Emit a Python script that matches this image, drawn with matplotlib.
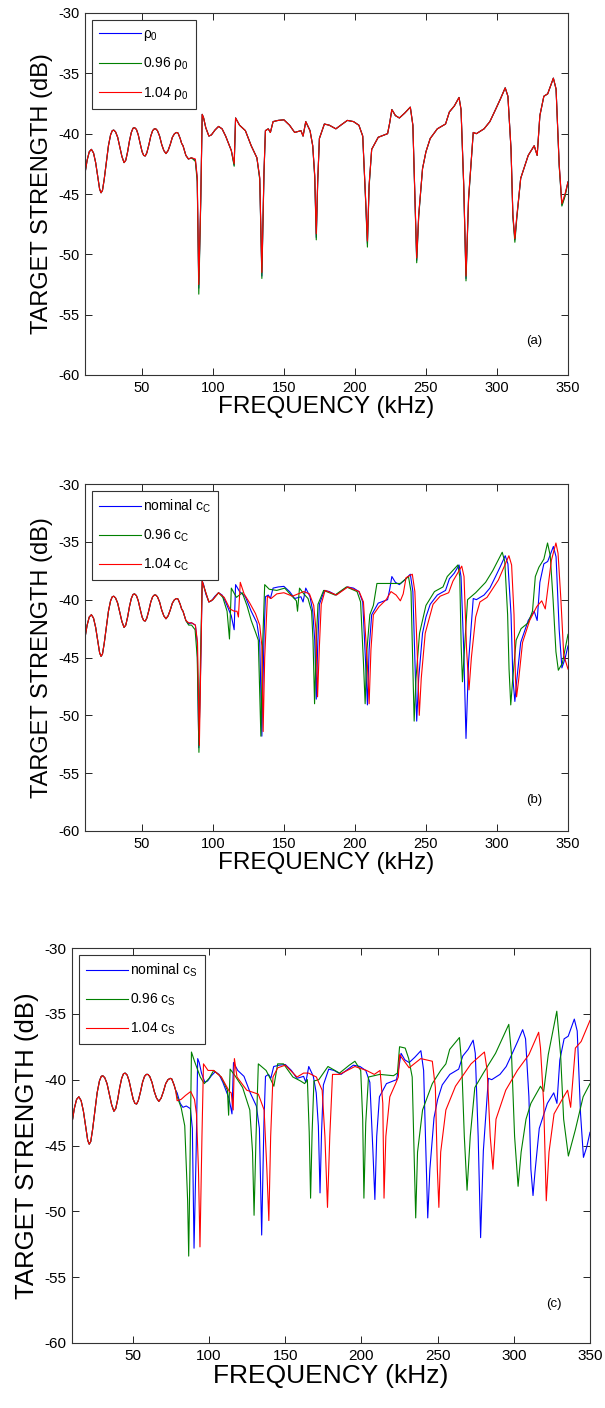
import matplotlib
matplotlib.use("Agg")
import matplotlib.pyplot as plt

plt.rcParams['font.family'] = ['Liberation Sans', 'DejaVu Sans']
plt.rcParams['mathtext.fontset'] = 'custom'
plt.rcParams['mathtext.rm'] = 'Liberation Sans'
plt.rcParams['mathtext.it'] = 'Liberation Sans'
plt.rcParams['mathtext.bf'] = 'Liberation Sans:bold'
plt.rcParams['axes.unicode_minus'] = False

# ---------------- data ----------------
# common low-frequency part (all curves coincide)
low_f = [10.4, 11.5, 13, 14.5, 16, 17.5, 19, 20.3, 21.3, 22.3, 23.5, 25, 26.5, 28, 29.2, 30.2,
         31.5, 33, 34.5, 36, 37.5, 38.7, 40, 41.3, 42.6, 43.8, 44.9, 46.2, 47.5, 48.8, 50.2,
         51.3, 52.4, 53.5, 55, 56.3, 57.6, 58.8, 59.8, 61, 62.5, 64, 65.5, 67, 68.5, 70, 71.5,
         73, 74.5, 75.5, 77, 78]
low_ts = [-43.0, -42.2, -41.5, -41.3, -41.6, -42.4, -43.6, -44.6, -44.9, -44.7, -43.8, -42.4,
          -41.0, -40.1, -39.75, -39.7, -39.85, -40.3, -41.1, -41.9, -42.4, -42.2, -41.5, -40.6,
          -39.9, -39.55, -39.5, -39.65, -40.1, -40.8, -41.5, -41.8, -41.85, -41.6, -40.9, -40.2,
          -39.75, -39.6, -39.6, -39.75, -40.2, -40.9, -41.4, -41.65, -41.4, -40.9, -40.3, -40.0,
          -39.9, -39.95, -40.4, -40.8]

# nominal curve (f >= 79 kHz)
nom_f = [79, 81, 82.8, 85, 87.7, 89, 90.1, 91.5, 92.5, 93.5,
         95, 97.2, 99, 101.5, 104, 106.5, 109, 113, 115, 116,
         118.8, 122.9, 127, 131, 133, 134.5, 136, 137, 139, 140.5,
         142.4, 146, 150, 154, 157.6, 162, 163.5, 165.4, 168.4, 170.3,
         171.7, 172.8, 173.8, 175, 178.5, 182, 186.6, 190, 194.7, 199,
         202.8, 205.5, 207.5, 208.8, 210, 211.8, 216.4, 223, 224.5, 226,
         228.5, 231.3, 235, 239, 240.8, 242, 243.5, 244.9, 247.6, 250,
         253, 258, 263.8, 266.5, 270, 273.3, 274.7, 276.6, 278.2, 280,
         283.3, 285.5, 290.9, 295, 299, 302.5, 305.8, 307.7, 309.9, 311.2,
         312.6, 313.9, 316.7, 322, 326.2, 328.3, 330.2, 333, 335.7, 339.7,
         341.6, 343.8, 345.7, 347.9, 350]
nom_ts = [-41.0, -41.8, -42.1, -42.0, -42.2, -43.7, -52.8, -45.4, -38.4, -38.7,
          -39.5, -40.2, -40.1, -39.7, -39.4, -39.6, -40.2, -41.4, -42.6, -38.7,
          -39.3, -39.75, -41.0, -42.0, -43.7, -51.8, -43.2, -39.75, -39.6, -39.9,
          -39.0, -38.9, -38.85, -39.3, -39.9, -39.75, -40.2, -39.0, -39.75, -41.0,
          -43.5, -48.6, -44.0, -40.4, -39.2, -39.3, -39.6, -39.3, -38.9, -39.0,
          -39.3, -40.2, -45.4, -49.1, -44.3, -41.3, -40.3, -40.0, -39.1, -38.0,
          -38.5, -38.7, -38.3, -37.8, -39.3, -44.3, -50.5, -46.8, -42.9, -41.5,
          -40.4, -39.6, -39.2, -38.2, -37.7, -37.0, -38.0, -44.3, -52.0, -45.4,
          -39.9, -40.0, -39.6, -39.0, -38.0, -37.1, -36.2, -36.9, -41.3, -46.8,
          -48.8, -47.0, -43.7, -41.8, -41.0, -41.8, -38.5, -36.9, -36.7, -35.4,
          -36.3, -42.6, -45.9, -45.1, -44.0]

# panel (a): density variations (same frequency grid as nominal)
rho096_ts = [-41.0, -41.8, -42.1, -42.0, -42.3, -44.0, -53.3, -45.6, -38.4, -38.7,
             -39.5, -40.2, -40.1, -39.7, -39.4, -39.6, -40.2, -41.4, -42.7, -38.7,
             -39.3, -39.75, -41.0, -42.0, -43.8, -52.0, -43.3, -39.75, -39.6, -39.9,
             -39.0, -38.9, -38.85, -39.3, -39.9, -39.75, -40.2, -39.0, -39.75, -41.0,
             -43.6, -48.8, -44.1, -40.4, -39.2, -39.3, -39.6, -39.3, -38.9, -39.0,
             -39.3, -40.2, -45.5, -49.4, -44.4, -41.3, -40.3, -40.0, -39.1, -38.0,
             -38.5, -38.7, -38.3, -37.8, -39.3, -44.4, -50.7, -46.9, -42.9, -41.5,
             -40.4, -39.6, -39.2, -38.2, -37.7, -37.0, -38.0, -44.4, -52.2, -45.5,
             -39.9, -40.0, -39.6, -39.0, -38.0, -37.1, -36.2, -36.9, -41.3, -46.9,
             -49.0, -47.1, -43.7, -41.8, -41.0, -41.8, -38.5, -36.9, -36.7, -35.4,
             -36.3, -42.7, -46.0, -45.2, -44.0]
rho104_ts = [-41.0, -41.8, -42.1, -42.0, -42.1, -43.6, -52.5, -45.3, -38.4, -38.7,
             -39.5, -40.2, -40.1, -39.7, -39.4, -39.6, -40.2, -41.4, -42.5, -38.7,
             -39.3, -39.75, -41.0, -42.0, -43.6, -51.5, -43.1, -39.75, -39.6, -39.9,
             -39.0, -38.9, -38.85, -39.3, -39.9, -39.75, -40.2, -39.0, -39.75, -41.0,
             -43.4, -48.3, -43.9, -40.4, -39.2, -39.3, -39.6, -39.3, -38.9, -39.0,
             -39.3, -40.2, -45.3, -48.9, -44.2, -41.3, -40.3, -40.0, -39.1, -38.0,
             -38.5, -38.7, -38.3, -37.8, -39.3, -44.2, -50.3, -46.7, -42.9, -41.5,
             -40.4, -39.6, -39.2, -38.2, -37.7, -37.0, -38.0, -44.2, -51.8, -45.3,
             -39.9, -40.0, -39.6, -39.0, -38.0, -37.1, -36.2, -36.9, -41.3, -46.7,
             -48.7, -46.9, -43.7, -41.8, -41.0, -41.8, -38.5, -36.9, -36.7, -35.4,
             -36.3, -42.5, -45.8, -45.0, -44.0]

# panel (b): compressional sound speed variations
cc096_f = [79, 81, 83, 85, 87.5, 89, 90.2, 91.3, 92.5, 94, 97.2, 100, 104, 107, 110, 111.7, 113,
           116.6, 120.7, 124, 127, 130, 132, 133.8, 135, 136.5, 139.7, 145, 150.6, 155, 158.8,
           159.6, 161, 164, 167, 169.5, 170.5, 171.6, 172.8, 174, 178, 186, 194, 201.5, 204,
           206, 207.2, 208.5, 210.5, 213, 215.5, 224, 232, 237.7, 239.5, 240.5, 241.7, 243,
           245.5, 250, 256, 262, 265, 272.5, 273.8, 274.8, 275.7, 277, 279.3, 285, 292, 297,
           303.7, 305.5, 307.5, 308.5, 309.7, 311, 313.5, 317, 322, 325, 327, 329.5, 333,
           335.6, 337.5, 339.5, 341.5, 343.2, 346, 350]
cc096_ts = [-41.0, -41.8, -42.2, -42.2, -42.6, -45.0, -53.2, -45.0, -38.4, -39.0, -40.2, -40.0,
            -39.4, -39.8, -41.0, -43.4, -39.0, -39.8, -39.4, -40.5, -41.8, -42.8, -43.5, -51.8,
            -44.0, -38.7, -39.1, -39.2, -39.0, -39.6, -40.1, -41.0, -39.0, -39.5, -39.9, -41.0,
            -43.5, -49.0, -43.5, -40.4, -39.2, -39.6, -38.9, -39.3, -40.2, -45.4, -49.0, -44.3,
            -41.3, -40.5, -38.6, -38.6, -38.6, -38.0, -39.3, -44.3, -50.5, -46.8, -42.9, -40.5,
            -39.3, -38.9, -38.0, -37.0, -38.0, -44.0, -47.1, -44.5, -40.0, -39.4, -38.5, -37.5,
            -35.9, -36.7, -41.3, -46.0, -49.1, -47.0, -43.5, -42.5, -42.0, -41.0, -38.0, -37.2,
            -36.5, -35.1, -36.2, -40.0, -44.5, -46.1, -45.5, -43.0]
cc104_f = [79, 81, 83, 85, 87.7, 89.2, 90.5, 91.5, 92.5, 94, 97.2, 100, 104, 108, 112, 115,
           117, 118, 119.3, 122, 126, 130, 133, 134.5, 135.4, 136.5, 138.4, 141, 145, 150, 156,
           160, 164, 168, 171, 172.5, 173.7, 175, 176.3, 179, 187, 195, 203, 206, 208.7, 210,
           211.3, 213, 217, 222, 225.4, 229, 232, 234, 236, 240.4, 242.2, 243.8, 245.3, 246.7,
           249.5, 255, 260, 266, 269, 275.2, 276.8, 278.6, 280.3, 282, 285, 288, 293, 301,
           308.4, 310.3, 312, 313, 313.8, 315.2, 318, 323, 328, 331.5, 334, 338.3, 341.5, 343,
           345, 347, 350]
cc104_ts = [-41.0, -41.8, -42.0, -42.0, -42.2, -43.7, -52.6, -45.4, -38.4, -39.0, -40.2, -40.0,
            -39.4, -39.8, -40.8, -41.0, -41.0, -41.5, -38.5, -39.5, -40.3, -41.2, -42.2, -44.0,
            -51.4, -45.0, -39.7, -39.9, -39.5, -39.4, -39.7, -39.5, -39.3, -39.5, -40.5, -42.5,
            -48.4, -44.0, -40.4, -39.2, -39.6, -38.9, -39.3, -40.2, -45.4, -49.0, -44.3, -41.3,
            -40.6, -40.0, -39.3, -39.6, -40.1, -39.5, -38.1, -37.8, -39.3, -44.3, -50.0, -46.8,
            -42.9, -40.4, -39.7, -39.4, -38.4, -37.1, -38.0, -44.3, -47.8, -45.0, -41.5, -40.2,
            -39.8, -38.3, -36.2, -37.0, -41.3, -46.8, -48.4, -47.0, -43.7, -41.8, -40.6, -40.1,
            -40.8, -36.6, -35.1, -36.0, -40.0, -44.8, -46.0]

# panel (c): shear sound speed variations
cs096_f = [79, 81.6, 84, 85.9, 86.6, 87.4, 88.4, 90.4, 94.2, 96.8, 100, 103, 108, 112, 112.8,
           113.8, 117, 122, 126.7, 128.5, 129.5, 130.8, 132.3, 137.4, 140.5, 142.5, 145, 148.8,
           155, 160, 162.7, 164.5, 165.7, 166.6, 167.6, 168.8, 172, 178, 185.6, 192, 195.7,
           199.5, 200.8, 201.6, 202.8, 204.6, 212, 221, 223.6, 225, 228.7, 231, 233.3, 234.8,
           235.6, 236.8, 240.1, 246.5, 252, 255.4, 257.9, 264.3, 265.8, 267.5, 269.3, 271.4,
           274.4, 280, 288, 296.7, 298.5, 300.5, 302.8, 304.8, 308, 311.2, 317.5, 319.6, 322.6,
           328.2, 330.7, 332.7, 335.8, 340.4, 345.5, 350]
cs096_ts = [-41.3, -42.1, -43.5, -49.2, -53.4, -46.8, -37.9, -38.6, -39.8, -40.3, -39.9, -39.3,
            -39.8, -40.8, -42.7, -39.2, -39.7, -40.6, -42.3, -45.5, -50.3, -44.3, -38.8, -39.3,
            -40.0, -40.5, -38.8, -38.8, -39.8, -40.1, -40.3, -40.0, -44.0, -49.0, -44.0, -40.1,
            -40.0, -39.0, -39.5, -38.9, -38.6, -39.3, -43.0, -49.0, -43.3, -39.8, -39.6, -39.7,
            -39.5, -37.5, -37.6, -38.4, -39.8, -46.8, -50.5, -45.5, -42.3, -40.3, -39.3, -38.8,
            -37.7, -36.8, -38.8, -44.3, -48.4, -44.3, -40.6, -39.5, -38.0, -35.8, -38.1, -44.3,
            -48.1, -45.5, -43.0, -41.8, -40.5, -40.9, -38.1, -34.8, -38.1, -43.0, -45.8, -43.8,
            -41.3, -40.3]
cs104_f = [79, 81.6, 84.5, 87.9, 90.4, 91.7, 93, 94, 95.3, 96.3, 99.3, 103, 108, 113.3, 114.5,
           115.8, 116.6, 118.3, 124.7, 132.3, 136.1, 137.9, 139.2, 140.4, 141.9, 145, 150,
           157.7, 162, 165.3, 170.4, 174.2, 176, 177.7, 179.2, 181, 185.6, 195.7, 203.3, 208.4,
           212.2, 214, 214.8, 216, 218.6, 222.4, 224.2, 225, 231.3, 238.9, 246.5, 248.5, 249.8,
           250.8, 252, 255.4, 261.7, 271.9, 280.7, 282.5, 284.5, 286.3, 288.3, 294.7, 302.3,
           309.9, 316.3, 317.5, 319.6, 321.3, 323.1, 326.4, 332.7, 335.3, 337.3, 340.4, 344.2,
           350]
cs104_ts = [-41.6, -41.5, -41.2, -40.9, -41.5, -42.6, -46.8, -52.7, -44.3, -38.8, -39.3, -39.3,
            -39.8, -40.9, -41.0, -42.3, -38.4, -39.8, -40.8, -41.1, -42.3, -46.8, -50.7, -44.3,
            -39.8, -39.1, -38.9, -39.8, -39.5, -39.5, -39.8, -40.8, -44.3, -49.7, -44.3, -39.6,
            -39.6, -39.0, -39.3, -39.6, -39.3, -41.8, -49.0, -44.3, -41.3, -40.3, -39.8, -38.1,
            -39.1, -38.4, -38.6, -40.6, -46.8, -49.7, -45.5, -42.3, -40.5, -38.8, -37.9, -39.3,
            -44.3, -46.8, -43.0, -40.8, -39.3, -38.1, -36.4, -37.6, -41.8, -49.2, -45.5, -42.6,
            -41.3, -40.8, -42.1, -37.6, -37.1, -35.5]

x_ticks = [50, 100, 150, 200, 250, 300, 350]
y_ticks = [-60, -55, -50, -45, -40, -35, -30]

labels_a = [r'$\rho_0$', r'0.96 $\rho_0$', r'1.04 $\rho_0$']
labels_b = [r'nominal c$_\mathrm{C}$', r'0.96 c$_\mathrm{C}$', r'1.04 c$_\mathrm{C}$']
labels_c = [r'nominal c$_\mathrm{S}$', r'0.96 c$_\mathrm{S}$', r'1.04 c$_\mathrm{S}$']

BLUE, GREEN, RED = '#0000ff', '#008000', '#ff0000'

# ---------------- figure ----------------
W, H = 605, 1408
fig = plt.figure(figsize=(W / 100, H / 100), dpi=100)


def px_axes(left, right, top, bottom):
    return fig.add_axes([left / W, 1 - bottom / H, (right - left) / W, (bottom - top) / H])


panels = [
    dict(box=(85, 568, 13, 375),
         series=[(low_f + nom_f, low_ts + nom_ts, BLUE),
                 (low_f + nom_f, low_ts + rho096_ts, GREEN),
                 (low_f + nom_f, low_ts + rho104_ts, RED)],
         labels=labels_a, tag='(a)', fs=17, tfs=10.5, tagpos=(0.93, 0.095)),
    dict(box=(85, 568, 484, 831),
         series=[(low_f + nom_f, low_ts + nom_ts, BLUE),
                 (low_f + cc096_f, low_ts + cc096_ts, GREEN),
                 (low_f + cc104_f, low_ts + cc104_ts, RED)],
         labels=labels_b, tag='(b)', fs=17, tfs=10.5, tagpos=(0.93, 0.09)),
    dict(box=(72, 590, 948, 1343),
         series=[(low_f + nom_f, low_ts + nom_ts, BLUE),
                 (low_f + cs096_f, low_ts + cs096_ts, GREEN),
                 (low_f + cs104_f, low_ts + cs104_ts, RED)],
         labels=labels_c, tag='(c)', fs=18.5, tfs=11, tagpos=(0.93, 0.10)),
]

for p in panels:
    ax = px_axes(*p['box'])
    for (f, ts, col), lab in zip(p['series'], p['labels']):
        ax.plot(f, ts, color=col, lw=0.8, label=lab)
    ax.set_xlim(10, 350)
    ax.set_ylim(-60, -30)
    ax.set_xticks(x_ticks)
    ax.set_yticks(y_ticks)
    ax.tick_params(direction='in', top=True, right=True, length=5, width=0.6,
                   labelsize=p['tfs'], pad=4)
    for s in ax.spines.values():
        s.set_linewidth(0.8)
        s.set_color('#333333')
    ax.set_xlabel('FREQUENCY (kHz)', fontsize=p['fs'] + 0.5, labelpad=1)
    ax.set_ylabel('TARGET STRENGTH (dB)', fontsize=p['fs'], labelpad=4)
    leg = ax.legend(loc='upper left', fontsize=10, frameon=True, fancybox=False,
                    edgecolor='#333333', framealpha=1, handlelength=3.0,
                    labelspacing=0.9, borderaxespad=0.5, handletextpad=0.2,
                    borderpad=0.5)
    leg.get_frame().set_linewidth(0.8)
    ax.text(p['tagpos'][0], p['tagpos'][1], p['tag'], transform=ax.transAxes,
            fontsize=9.5, ha='center', va='center')

fig.savefig('out.png', dpi=100)
